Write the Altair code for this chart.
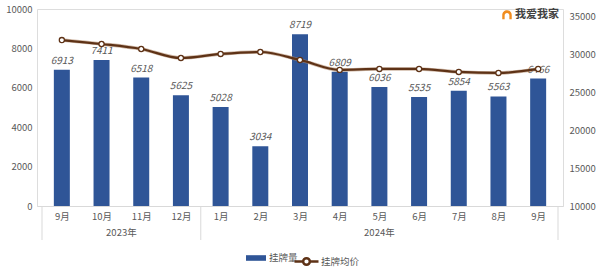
import altair as alt
import pandas as pd

months = ["9月", "10月", "11月", "12月", "1月", "2月", "3月", "4月", "5月", "6月", "7月", "8月", "9月"]
years = ["2023年"] * 4 + ["2024年"] * 9
listings = [6913, 7411, 6518, 5625, 5028, 3034, 8719, 6809, 6036, 5535, 5854, 5563, 6466]
avg_price = [31950, 31430, 30770, 29580, 30110, 30370, 29320, 28000, 28130, 28130, 27730, 27600, 28130]
bar_name = "挂牌量"
line_name = "挂牌均价"
brand = "我爱我家"

idx = list(range(len(months)))
df = pd.DataFrame({"i": idx, "month": months, "year": years,
                   "listings": listings, "price": avg_price,
                   "s1": bar_name, "s2": line_name})

grp = df.groupby("year", sort=False)["i"].agg(["min", "max"]).reset_index()
grp["mid"] = (grp["min"] + grp["max"]) / 2
bounds = sorted(set([g - 0.5 for g in grp["min"]] + [g + 0.5 for g in grp["max"]]))
df_years = grp[["year", "mid"]]
df_bounds = pd.DataFrame({"b": bounds})

W, H = 526, 197
FONT = "Noto Sans CJK SC"
GRAY = "#595959"
BLUE = "#2F5597"
BROWN = "#5E3216"

label_expr = "[" + ",".join("'%s'" % m for m in months) + "][datum.value]"
xscale = alt.Scale(domain=[-0.5, len(months) - 0.5], nice=False, zero=False)
lscale = alt.Scale(domain=[0, 10000], nice=False)
rscale = alt.Scale(domain=[10000, 36058], nice=False, zero=False)

x_ax = alt.Axis(values=idx, labelExpr=label_expr, ticks=False, grid=False,
                domainColor="#D9D9D9", domainWidth=1, labelColor=GRAY,
                labelFontSize=9.5, labelFont=FONT, labelPadding=5, title=None,
                labelFlush=False, labelOverlap=False)
l_ax = alt.Axis(values=[0, 2000, 4000, 6000, 8000, 10000], grid=False, ticks=False,
                domain=False, labelColor=GRAY, labelFontSize=9.5, labelFont=FONT,
                labelPadding=5, title=None, format="d", labelOverlap=False)
r_ax = alt.Axis(orient="right", values=[10000, 15000, 20000, 25000, 30000, 35000],
                grid=False, ticks=False, domain=False, labelColor=GRAY,
                labelFontSize=9.5, labelFont=FONT, labelPadding=6, title=None,
                format="d", labelOverlap=False)

x_enc = alt.X("i:Q", scale=xscale, axis=x_ax)
yl = alt.Y("listings:Q", scale=lscale, axis=l_ax)
yr = alt.Y("price:Q", scale=rscale, axis=r_ax)

bars = alt.Chart(df).mark_bar(width=16).encode(
    x=x_enc, y=yl,
    color=alt.Color("s1:N", scale=alt.Scale(domain=[bar_name], range=[BLUE]),
                    legend=alt.Legend(orient="none", legendX=209, legendY=239, title=None,
                                      symbolType="M-1,-0.28H1V0.28H-1Z", symbolSize=400,
                                      symbolStrokeWidth=0, labelFont=FONT, labelFontSize=9.5,
                                      labelColor=GRAY, labelOffset=3)),
)

bar_labels = alt.Chart(df).mark_text(dy=-9, fontStyle="italic", fontSize=10, color=GRAY,
                                     font=FONT).encode(
    x=x_enc, y=yl, text=alt.Text("listings:Q", format="d"))

line_halo = alt.Chart(df).mark_line(interpolate="monotone", strokeWidth=3.6, color="#B08A6C",
                                    opacity=0.6).encode(x=x_enc, y=yr)
line = alt.Chart(df).mark_line(interpolate="monotone", strokeWidth=2.2).encode(
    x=x_enc, y=yr,
    stroke=alt.Stroke("s2:N", scale=alt.Scale(domain=[line_name], range=[BROWN]),
                      legend=alt.Legend(orient="none", legendX=256, legendY=239, title=None,
                                        symbolType="M-1,0H-0.28M0.28,0H1M0.28,0A0.28,0.28,0,1,1,-0.28,0A0.28,0.28,0,1,1,0.28,0",
                                        symbolSize=576, symbolStrokeWidth=2.5,
                                        symbolFillColor="white", labelFont=FONT,
                                        labelFontSize=9.5, labelColor=GRAY, labelOffset=1)),
)
pts = alt.Chart(df).mark_point(filled=True, fill="white", stroke=BROWN, strokeWidth=1.3,
                               size=26, opacity=1).encode(x=x_enc, y=yr)

seps = alt.Chart(df_bounds).mark_rule(color="#D9D9D9", strokeWidth=1).encode(
    x=alt.X("b:Q", scale=xscale, axis=x_ax), y=alt.value(H), y2=alt.value(H + 34))
year_text = alt.Chart(df_years).mark_text(fontSize=9.5, color=GRAY, font=FONT).encode(
    x=alt.X("mid:Q", scale=xscale, axis=x_ax), y=alt.value(H + 27), text="year:N")

brand_df = pd.DataFrame({"t": [brand]})
brand_text = alt.Chart(brand_df).mark_text(fontSize=11, color="#404040", font=FONT,
                                           fontWeight="bold", align="left").encode(
    x=alt.value(W - 48), y=alt.value(6), text="t:N")
brand_icon = alt.Chart(brand_df).mark_point(
    shape="M-1,0.9L-1,0A1,1,0,0,1,1,0L1,0.9L0.5,0.9L0.5,0.1A0.5,0.5,0,0,0,-0.5,0.1L-0.5,0.9Z",
    filled=True, color="#F08C1E", size=90, opacity=1).encode(
    x=alt.value(W - 56), y=alt.value(6))

left = alt.layer(bars, bar_labels)
right = alt.layer(line_halo, line, pts)
chart = alt.layer(left, right, seps, year_text, brand_text, brand_icon).resolve_scale(
    y="independent", color="independent", stroke="independent"
).properties(
    width=W, height=H,
    autosize=alt.AutoSizeParams(type="none"),
    padding={"left": 37, "top": 9, "right": 37, "bottom": 61},
).configure_view(stroke="transparent", strokeWidth=0).configure_axisY(
    domain=False, ticks=False, grid=False, domainOpacity=0
).configure(background="white")

chart.save("out.html", embed_options={"renderer": "svg", "actions": False})
